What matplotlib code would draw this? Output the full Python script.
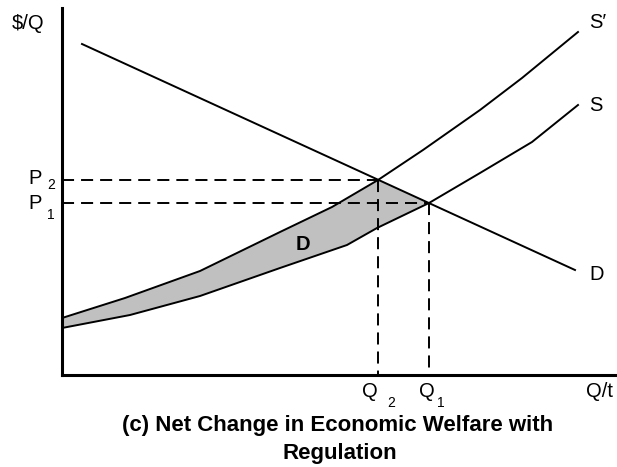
"""
Net change in economic welfare with regulation (panel c)
Supply shifts from S to S' ; shaded area D is the welfare change.
"""

import matplotlib.pyplot as plt

plt.rcParams['font.family'] = ['Liberation Sans', 'DejaVu Sans']

# curves (quantity, price) in chart units
s_prime_q = [0, 63, 138, 218, 270, 316, 361, 418, 460, 516]
s_prime_p = [57, 77, 104, 143, 168, 195, 225, 265, 297, 343]

s_q = [0, 68, 138, 218, 285, 315, 367, 418, 470, 516]
s_p = [47, 60, 79, 107, 130, 147, 172, 202, 233, 270]

d_q = [20, 513]
d_p = [331, 105]

# equilibria
q2, p2 = 316, 195
q1, p1 = 367, 172


def create_welfare_chart():
    fig = plt.figure(figsize=(6.17, 4.67), dpi=100)
    W, H = 617, 467
    ax = fig.add_axes([62 / W, (H - 375) / H, 555 / W, 367 / H])
    ax.set_xlim(0, 555)
    ax.set_ylim(0, 367)

    for side in ['top', 'right']:
        ax.spines[side].set_visible(False)
    for side in ['left', 'bottom']:
        ax.spines[side].set_linewidth(2.2)
    ax.set_xticks([])
    ax.set_yticks([])

    # shaded area: under S' up to Q2, along D to Q1, back along S
    n2 = s_prime_q.index(q2) + 1
    n1 = s_q.index(q1) + 1
    poly_q = s_prime_q[:n2] + s_q[:n1][::-1]
    poly_p = s_prime_p[:n2] + s_p[:n1][::-1]
    ax.fill(poly_q, poly_p, facecolor='#c0c0c0', edgecolor='none', zorder=1)

    lw = 1.4
    ax.plot(s_prime_q, s_prime_p, color='black', lw=lw, zorder=3)
    ax.plot(s_q, s_p, color='black', lw=lw, zorder=3)
    ax.plot(d_q, d_p, color='black', lw=lw, zorder=3)

    dash = (0, (6.2, 3.6))
    for q, p in [(q2, p2), (q1, p1)]:
        ax.plot([0, q], [p, p], color='black', lw=lw, linestyle=dash, zorder=2)
        ax.plot([q, q], [p, 0], color='black', lw=lw, linestyle=dash, zorder=2)

    # labels, placed in pixel coordinates of the figure
    def px(x, y):
        return x / W, 1 - y / H

    fs = 14.5
    sub = 10
    fig.text(*px(12, 29), '$/Q', fontsize=fs, va='baseline')
    fig.text(*px(28, 184), 'P', fontsize=fs, va='baseline')
    fig.text(*px(47, 189), '2', fontsize=sub, va='baseline')
    fig.text(*px(28, 209), 'P', fontsize=fs, va='baseline')
    fig.text(*px(47, 219), '1', fontsize=sub, va='baseline')

    fig.text(*px(362, 397), 'Q', fontsize=fs, va='baseline')
    fig.text(*px(387, 407), '2', fontsize=sub, va='baseline')
    fig.text(*px(419, 397), 'Q', fontsize=fs, va='baseline')
    fig.text(*px(437, 407), '1', fontsize=sub, va='baseline')
    fig.text(*px(586, 397), 'Q/t', fontsize=fs, va='baseline')

    fig.text(*px(589, 28), 'S\u2032', fontsize=fs, va='baseline')
    fig.text(*px(589, 111), 'S', fontsize=fs, va='baseline')
    fig.text(*px(589, 280), 'D', fontsize=fs, va='baseline')
    fig.text(*px(296, 250), 'D', fontsize=fs, weight='bold', va='baseline')

    fig.text(*px(338, 431), '(c) Net Change in Economic Welfare with',
             fontsize=16, weight='bold', ha='center', va='baseline')
    fig.text(*px(340, 459), 'Regulation',
             fontsize=16, weight='bold', ha='center', va='baseline')
    return fig


if __name__ == "__main__":
    fig = create_welfare_chart()
    fig.savefig('out.png', dpi=100, facecolor='white')
    plt.close(fig)
